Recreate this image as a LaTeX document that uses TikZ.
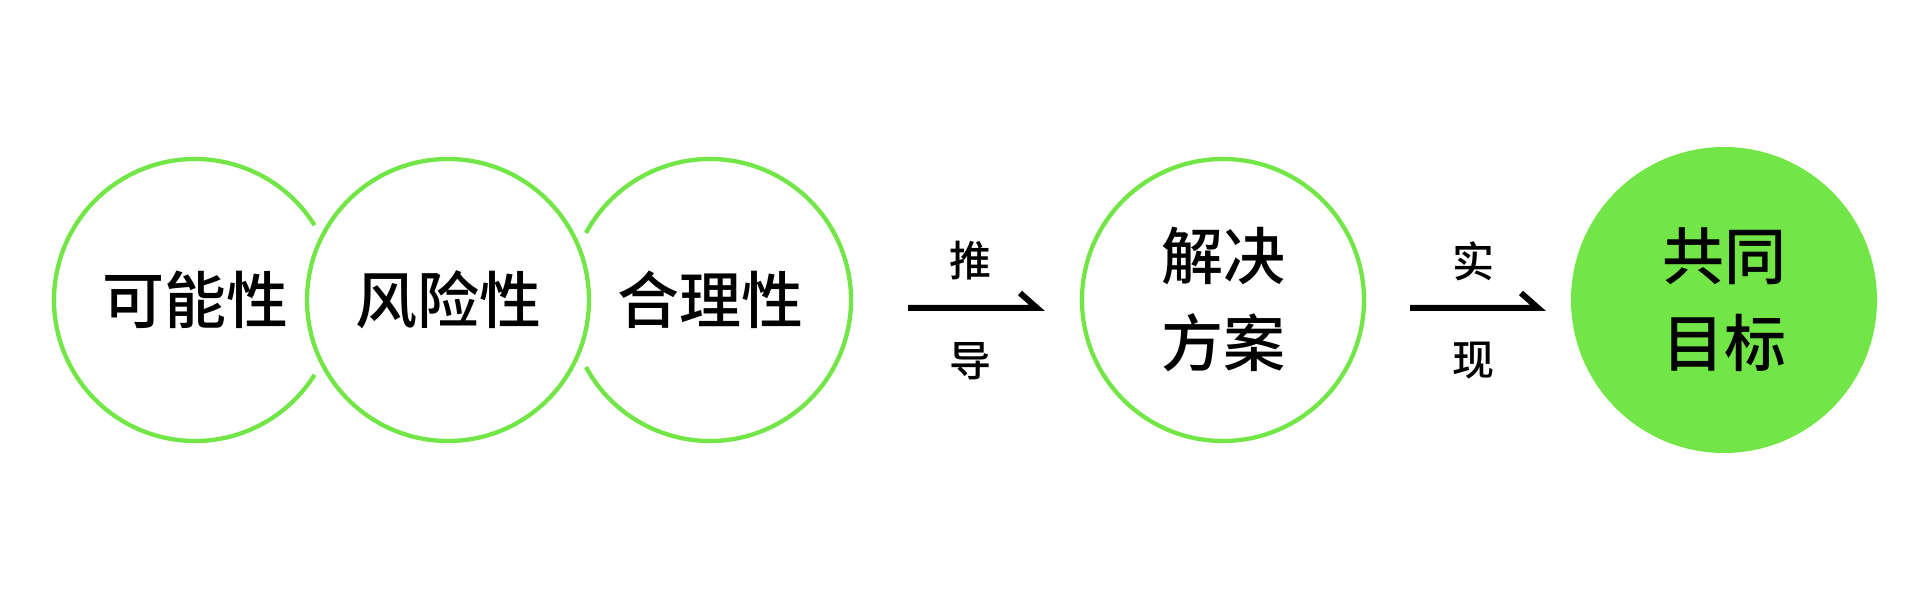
\documentclass[tikz,border=0pt]{standalone}
\usepackage{fontspec}
\setmainfont{Noto Sans CJK SC}[UprightFont=* Medium]
\usetikzlibrary{calc}
\definecolor{leaf}{HTML}{72E646}
\tikzset{
	ring/.style={draw=leaf, line width=4.3pt},
	bigword/.style={font=\fontsize{62}{87}\selectfont, align=center, inner sep=0pt},
	smallword/.style={font=\fontsize{42}{50}\selectfont, inner sep=0pt},
	flowline/.style={line width=6pt, line join=miter, miter limit=20}
}
\def\ringgap[#1](#2)(#3:#4:#5){\draw[#1] ($(#2)+(#3:#5)$) arc (#3:#4:#5);}

\begin{document}
\begin{tikzpicture}[x=1pt, y=1pt]
			%%%%% FRAME %%%%%
			\useasboundingbox (0, 0) rectangle (1920, 600);
			
			\coordinate (c1) at (195, 300);
			\coordinate (c2) at (448, 300);
			\coordinate (c3) at (710, 300);
			\coordinate (c4) at (1223, 300);
			\coordinate (c5) at (1724, 300);
			
			%%%%% RINGS %%%%%
			\ringgap[ring](c1)(32:328:141pt)
			\draw[ring] (c2) circle (141pt);
			\ringgap[ring](c3)(-151.6:151.6:141pt)
			\draw[ring] (c4) circle (141pt);
			\fill[leaf] (c5) circle (153pt);
			
			\node[bigword] (possible) at (c1) {可能性};
			\node[bigword] (risk) at (c2) {风险性};
			\node[bigword] (reason) at (c3) {合理性};
			\node[bigword] (plan) at (c4) {解决\\方案};
			\node[bigword] (goal) at (c5) {共同\\目标};
			
			%%%%% ARROWS %%%%%
			\coordinate (a1s) at (908, 292);
			\coordinate (a1e) at (1037, 292);
			\draw[flowline] (a1s) -- (a1e) -- ++(-17, 15);
			\node[smallword] (derive1) at (970, 339) {推};
			\node[smallword] (derive2) at (970, 239) {导};
			
			\coordinate (a2s) at (1410, 292);
			\coordinate (a2e) at (1538, 292);
			\draw[flowline] (a2s) -- (a2e) -- ++(-17, 15);
			\node[smallword] (reach1) at (1473, 339) {实};
			\node[smallword] (reach2) at (1473, 239) {现};
			
		\end{tikzpicture}
\end{document}
